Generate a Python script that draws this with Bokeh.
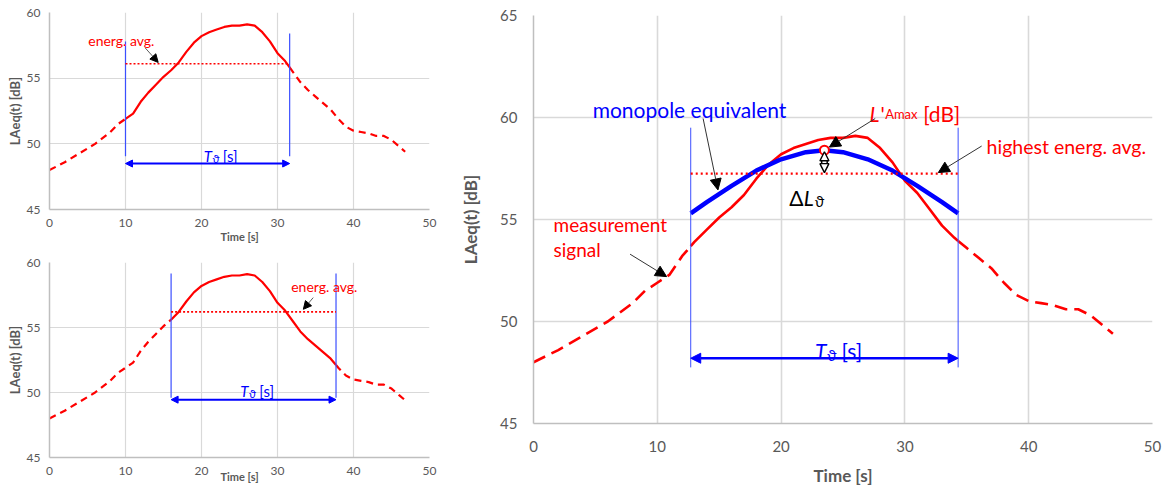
import numpy as np
from bokeh.plotting import figure
from bokeh.layouts import row, column
from bokeh.models import Label, Arrow, NormalHead, Range1d
from bokeh.embed import file_html
from bokeh.resources import INLINE

FONT = "Lato"
RED = "#ff0000"
BLUE = "#0000ff"
VBLUE = "#3b4fff"
GRID = "#d9d9d9"
AXIS = "#bfbfbf"
TICK = "#595959"
NB = "\u00a0"

# ---------------- data ----------------
time_s = [0, 2, 4, 6, 8, 9, 10, 11, 12, 13, 14, 15, 16, 17, 18, 19, 20, 21, 22, 23,
          24, 25, 26, 27, 28, 29, 30, 31, 32, 33, 34, 35, 36, 37, 38, 39, 40, 41, 42,
          43, 44, 45, 46, 46.8]
level_db = [48.0, 48.6, 49.3, 50.0, 50.9, 51.5, 51.9, 52.3, 53.2, 53.9, 54.5, 55.1,
            55.6, 56.2, 57.0, 57.7, 58.2, 58.5, 58.7, 58.9, 59.0, 59.0, 59.1, 59.0,
            58.5, 57.8, 56.9, 56.3, 55.5, 54.7, 54.1, 53.6, 53.1, 52.6, 51.9, 51.3,
            51.0, 50.9, 50.8, 50.6, 50.6, 50.3, 49.8, 49.4]
mono_t = [12.7, 14, 16, 18, 20, 22, 23.5, 25, 27, 29, 31, 33, 34.3]
mono_db = [55.3, 55.85, 56.65, 57.4, 57.95, 58.3, 58.4, 58.3, 57.95, 57.4, 56.65, 55.85, 55.3]

x_ticks = [0, 10, 20, 30, 40, 50]
y_ticks_small = [45, 50, 55, 60]
y_ticks_main = [45, 50, 55, 60, 65]
x_title = "Time [s]"
y_title = "LAeq(t) [dB]"

win_top = (10.0, 31.6)
avg_top = 56.1
win_bot = (16.0, 37.7)
avg_bot = 56.2
win_main = (12.7, 34.3)
avg_main = 57.25
peak_t = 23.5
peak_db = 58.4

# ---------------- helpers ----------------
CW = {"L": .52, "A": .66, "e": .53, "q": .56, "(": .30, "t": .36, ")": .30, " ": .26,
      NB: .26, "[": .31, "d": .57, "B": .63, "]": .31, "T": .57, "s": .43, "m": .85,
      "a": .50, "x": .50, "'": .22, "ϑ": .60, "Δ": .70}


def tw(s, size, style="normal"):
    w = sum(CW.get(c, .55) for c in s) * size
    return w * (1.05 if "bold" in style else 1.0)


def rich(p, x, y, pieces, align="left", color="black"):
    total = sum(tw(t, s, st) for t, s, st, sh in pieces)
    cum = {"left": 0.0, "center": -total / 2, "right": -total}[align]
    for t, s, st, sh in pieces:
        p.add_layout(Label(x=x, y=y, text=t, x_offset=cum, y_offset=-sh,
                           text_font=FONT, text_font_size=f"{s}px", text_font_style=st,
                           text_color=color, text_align="left",
                           text_baseline="alphabetic"))
        cum += tw(t, s, st)


def text(p, x, y, t, size, color, style="normal", align="left", base="alphabetic"):
    p.add_layout(Label(x=x, y=y, text=t, text_font=FONT, text_font_size=f"{size}px",
                       text_font_style=style, text_color=color, text_align=align,
                       text_baseline=base))


def pointer(p, xs, ys, xe, ye, head=9, lw=1.0):
    p.add_layout(Arrow(x_start=xs, y_start=ys, x_end=xe, y_end=ye, start=None,
                       end=NormalHead(size=head, fill_color="black", line_color="black"),
                       line_color="#333333", line_width=lw))


def make_fig(fw, fh, yr, yticks, bl, br, bt, bb, tick_size, grid_w, sx, sy,
             title_size, ytitle_size, x_standoff, y_standoff):
    p = figure(frame_width=fw, frame_height=fh, x_range=Range1d(0, 50),
               y_range=Range1d(*yr), output_backend="svg", toolbar_location=None,
               min_border_left=bl, min_border_right=br, min_border_top=bt,
               min_border_bottom=bb)
    p.outline_line_color = None
    p.xaxis.ticker = x_ticks
    p.yaxis.ticker = yticks
    for ax in (p.xaxis, p.yaxis):
        ax.axis_line_color = AXIS
        ax.axis_line_width = 1.5
        ax.major_tick_line_color = None
        ax.minor_tick_line_color = None
        ax.major_tick_out = 0
        ax.major_tick_in = 0
        ax.minor_tick_out = 0
        ax.major_label_text_color = TICK
        ax.major_label_text_font = FONT
        ax.major_label_text_font_size = f"{tick_size}px"
        ax.axis_label_text_font = FONT
        ax.axis_label_text_font_style = "bold"
        ax.axis_label_text_color = TICK
    p.xaxis.axis_label_text_font_size = f"{title_size}px"
    p.yaxis.axis_label_text_font_size = f"{ytitle_size}px"
    p.xaxis.major_label_standoff = sx
    p.yaxis.major_label_standoff = sy
    p.xaxis.axis_label = x_title
    p.xaxis.axis_label_standoff = x_standoff
    p.yaxis.axis_label = y_title
    p.yaxis.axis_label_standoff = y_standoff
    p.xgrid.grid_line_color = GRID
    p.ygrid.grid_line_color = GRID
    p.xgrid.grid_line_width = grid_w
    p.ygrid.grid_line_width = grid_w
    return p


def draw_signal(p, t0, t1, lw, dash):
    t = np.array(time_s, dtype=float)
    L = np.array(level_db, dtype=float)
    L0, L1 = np.interp([t0, t1], t, L)
    pre = t < t0
    post = t > t1
    mid = (t > t0) & (t < t1)
    p.line(list(t[pre]) + [t0], list(L[pre]) + [L0], line_color=RED, line_width=lw,
           line_dash=dash)
    p.line([t0] + list(t[mid]) + [t1], [L0] + list(L[mid]) + [L1], line_color=RED,
           line_width=lw)
    p.line([t1] + list(t[post]), [L1] + list(L[post]), line_color=RED, line_width=lw,
           line_dash=dash)


def tlabel(p, x, y, size):
    rich(p, x, y, [("T", size, "italic", 0), ("ϑ", round(size * 0.72), "normal", size * 0.2),
                   (NB + "[s]", size, "normal", 0)], align="center", color=BLUE)


def small_chart(win, avg, vtops, vbot, arr_y, avg_txt, avg_arrow, t_lbl, fh, bt, bb, bl, br,
                x_standoff):
    p = make_fig(380, fh, (45, 60), y_ticks_small, bl, br, bt, bb, 12, 1.2, 9, 9,
                 11, 13, x_standoff, 1)
    draw_signal(p, win[0], win[1], 2.2, "7 5")
    p.segment(x0=list(win), y0=[vbot, vbot], x1=list(win), y1=list(vtops),
              line_color=VBLUE, line_width=1.2)
    p.line(list(win), [avg, avg], line_color=RED, line_width=1.6, line_dash="2 2")
    p.add_layout(Arrow(x_start=win[0], y_start=arr_y, x_end=win[1], y_end=arr_y,
                       start=NormalHead(size=7, fill_color=BLUE, line_color=BLUE),
                       end=NormalHead(size=7, fill_color=BLUE, line_color=BLUE),
                       line_color=BLUE, line_width=2))
    text(p, avg_txt[0], avg_txt[1], "energ. avg.", 14, RED)
    pointer(p, *avg_arrow, head=8, lw=0.8)
    tlabel(p, t_lbl[0], t_lbl[1], 15)
    return p


p1 = small_chart(win_top, avg_top, (57.8, 58.4), 49.05, 48.5, (5.1, 57.86),
                 (12.6, 57.3, 14.3, 56.2), (22.6, 49.1), 197, 12, 39, 49, 11, 0)
p2 = small_chart(win_bot, avg_bot, (59.15, 59.15), 49.6, 49.45, (31.8, 58.15),
                 (34.7, 57.3, 33.4, 56.4), (27.4, 50.15), 195, 14, 31, 48, 12, -8)

# ---------------- main chart ----------------
pm = make_fig(619, 408, (45, 65), y_ticks_main, 93, 12, 15, 65, 15, 1.6, 17, 16,
              17, 17, 10, 16)
draw_signal(pm, win_main[0], win_main[1], 2.6, "13 7")
pm.line(mono_t, mono_db, line_color=BLUE, line_width=4.5)
pm.segment(x0=list(win_main), y0=[47.75, 47.75], x1=list(win_main), y1=[59.5, 59.5],
           line_color=VBLUE, line_width=1)
pm.line(list(win_main), [avg_main, avg_main], line_color=RED, line_width=2.4,
        line_dash="2 3")
pm.add_layout(Arrow(x_start=win_main[0], y_start=48.2, x_end=win_main[1], y_end=48.2,
                    start=NormalHead(size=10, fill_color=BLUE, line_color=BLUE),
                    end=NormalHead(size=10, fill_color=BLUE, line_color=BLUE),
                    line_color=BLUE, line_width=2.6))
# hollow double arrow (delta L)
pm.segment(x0=[peak_t], y0=[avg_main + 0.3], x1=[peak_t], y1=[peak_db - 0.35],
           line_color="black", line_width=7)
pm.segment(x0=[peak_t], y0=[avg_main + 0.3], x1=[peak_t], y1=[peak_db - 0.35],
           line_color="white", line_width=4)
for ys, ye in ((peak_db - 0.6, peak_db - 0.08), (avg_main + 0.6, avg_main + 0.05)):
    pm.add_layout(Arrow(x_start=peak_t, y_start=ys, x_end=peak_t, y_end=ye, start=None,
                        end=NormalHead(size=9, fill_color="white", line_color="black",
                                       line_width=1.4),
                        line_alpha=0))
pm.scatter([peak_t], [peak_db], size=9, fill_color="white", line_color=RED, line_width=2)

text(pm, 4.78, 60.39, "monopole equivalent", 21, BLUE)
pointer(pm, 13.7, 59.95, 14.9, 56.45, head=11)
rich(pm, 27.15, 60.2, [("L", 21, "italic", 0), ("'", 21, "normal", 0),
                       ("Amax", 13, "normal", 1), (NB + "[dB]", 21, "normal", 0)], color=RED)
pointer(pm, 27.6, 59.95, 23.9, 58.55, head=11)
text(pm, 36.6, 58.58, "highest energ. avg.", 19.5, RED)
pointer(pm, 36.2, 58.6, 32.7, 57.3, head=11)
text(pm, 1.62, 54.75, "measurement", 19, RED)
text(pm, 1.62, 53.53, "signal", 19, RED)
pointer(pm, 7.8, 53.3, 10.75, 52.2, head=11)
rich(pm, 22.05, 56.08, [("Δ", 21, "normal", 0), ("L", 21, "italic", 0),
                        ("ϑ", 15, "normal", 4)], align="center", color="black")
tlabel(pm, 24.7, 48.58, 21)

layout = row(column(p1, p2), pm)
open("out.html", "w").write(file_html(layout, INLINE))
